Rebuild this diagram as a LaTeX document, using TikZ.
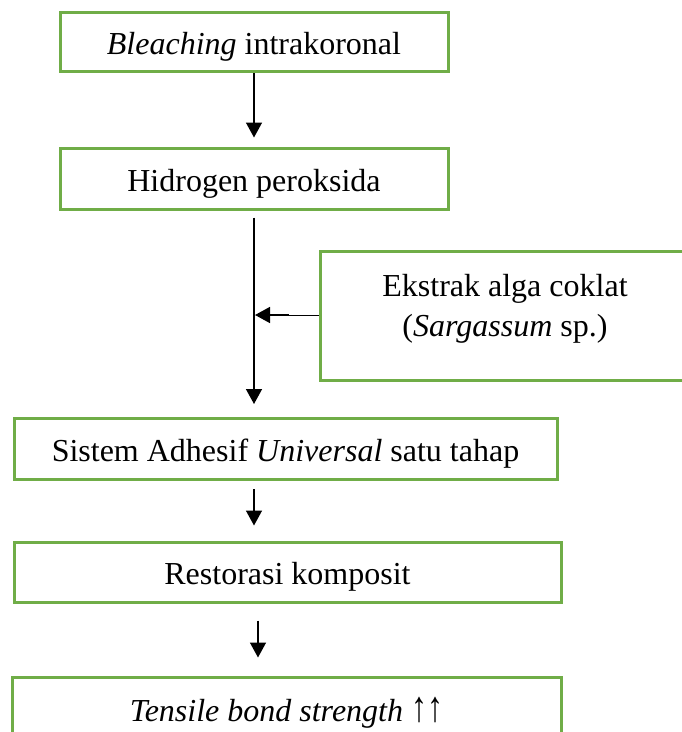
\documentclass[tikz,border=0pt]{standalone}
\usepackage{fontspec}
\usepackage{graphicx}
\setmainfont{Liberation Serif}
\usetikzlibrary{arrows.meta,positioning,calc}
\definecolor{boxgreen}{HTML}{70AD47}
\tikzset{
  box/.style={draw=boxgreen,line width=3pt,fill=white,align=center,inner sep=0pt,
    text height=32pt,text depth=7pt,font=\fontsize{32}{40}\selectfont},
  arr/.style={-{Triangle[length=15pt,width=16pt]},line width=1.5pt,draw=black},
}

\begin{document}
\begin{tikzpicture}[x=1pt,y=-1pt]
  \useasboundingbox (0,0) rectangle (682,732);
  \clip (0,0) rectangle (682,732);
  % main chain
  \node[box,minimum width=388pt,minimum height=59pt] (bleach) at (254,42) {\textit{Bleaching} intrakoronal};
  \node[box,minimum width=388pt,minimum height=61pt] (hp) at (254,178.5) {Hidrogen peroksida};
  \node[box,minimum width=543pt,minimum height=61pt] (adh) at (285.5,449) {Sistem Adhesif \textit{Universal} satu tahap};
  \node[box,minimum width=547pt,minimum height=60pt] (resto) at (287.5,572) {Restorasi komposit};
  \node[box,minimum width=549pt,minimum height=63pt] (tbs) at (286.5,708.5) {\textit{Tensile bond strength} \scalebox{1}[1.35]{↑↑}};
  % side input
  \node[box,text height=50pt,text depth=9pt,minimum width=370pt,minimum height=129pt] (alga) at (505,315.5) {Ekstrak alga coklat\\(\textit{Sargassum} sp.)};
  % arrows
  \draw[arr,shorten >=9pt] (bleach.south) -- (hp.north);
  \draw[arr,shorten <=7pt,shorten >=13pt] (hp.south) -- (hp.south |- adh.north);
  \draw[arr,shorten <=8pt,shorten >=15pt] (hp.south |- adh.south) -- (hp.south |- resto.north);
  \draw[arr,shorten <=17pt,shorten >=18pt] ([xshift=4pt]hp.south |- resto.south) -- ([xshift=4pt]hp.south |- tbs.north);
  \coordinate (jog) at (288,315);
  \draw[arr] (alga.west) -- (jog |- alga.west) -- (jog) -- ([xshift=1pt]hp.south |- jog);
\end{tikzpicture}
\end{document}
